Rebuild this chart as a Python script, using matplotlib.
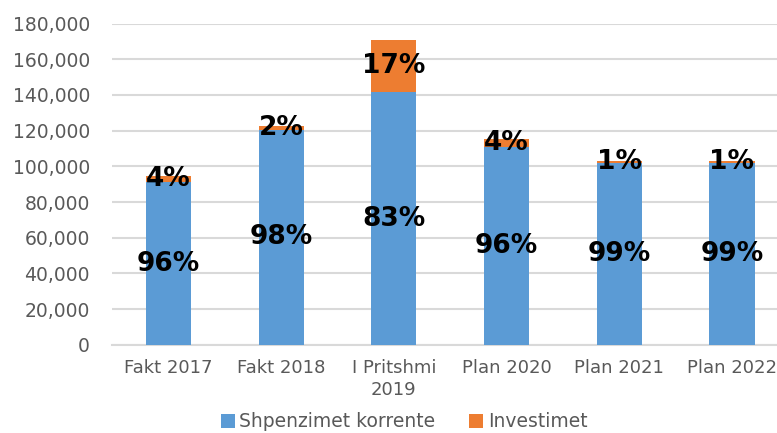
import numpy as np
import matplotlib.pyplot as plt

# -------------------------------------------------------------------
# Data
# -------------------------------------------------------------------
categories = ["Fakt 2017", "Fakt 2018", "I Pritshmi\n2019", "Plan 2020", "Plan 2021", "Plan 2022"]
korrente = [91000, 120500, 141500, 110800, 101800, 101800]
investimet = [3800, 2000, 29500, 4400, 1200, 1200]
pct_korrente = ["96%", "98%", "83%", "96%", "99%", "99%"]
pct_investimet = ["4%", "2%", "17%", "4%", "1%", "1%"]

blue = "#5B9BD5"
orange = "#ED7D31"
grey_text = "#595959"
grid_col = "#D9D9D9"

# -------------------------------------------------------------------
# Figure
# -------------------------------------------------------------------
fig = plt.figure(figsize=(7.77, 4.33), dpi=100)
ax = fig.add_axes([0.1443, 0.2035, 0.8703, 0.742])

x = np.arange(len(categories))
b1 = ax.bar(x, korrente, width=0.4, color=blue, label="Shpenzimet korrente", zorder=3)
b2 = ax.bar(x, investimet, width=0.4, bottom=korrente, color=orange,
            label="Investimet", zorder=3)

# percentage labels, centred in each segment
for i in range(len(categories)):
    ax.text(x[i], korrente[i] / 2, pct_korrente[i], ha="center", va="center",
            fontsize=19, fontweight="bold", color="black", zorder=4)
    ax.text(x[i], korrente[i] + investimet[i] / 2, pct_investimet[i],
            ha="center", va="center", fontsize=19, fontweight="bold",
            color="black", zorder=4)

ax.set_xlim(-0.5, len(categories) - 0.5)
ax.set_ylim(0, 180000)
ax.set_yticks(np.arange(0, 180001, 20000))
ax.set_yticklabels([f"{v:,}" for v in range(0, 180001, 20000)])
ax.set_xticks(x)
ax.set_xticklabels(categories)

ax.yaxis.grid(True, color=grid_col, linewidth=1.5, zorder=0)
ax.set_axisbelow(True)
for side in ["top", "right", "left"]:
    ax.spines[side].set_visible(False)
ax.spines["bottom"].set_color(grid_col)
ax.spines["bottom"].set_linewidth(1.5)

ax.tick_params(axis="y", length=0, pad=16, labelsize=13.5, labelcolor=grey_text)
ax.tick_params(axis="x", length=0, pad=10, labelsize=13, labelcolor=grey_text)
for lbl in ax.get_xticklabels():
    lbl.set_linespacing(1.3)

leg = fig.legend(handles=[b1, b2], loc="center", bbox_to_anchor=(0.52, 0.026),
                 ncol=2, frameon=False, fontsize=13.5, handlelength=0.75,
                 handleheight=0.75, handletextpad=0.25, columnspacing=1.8,
                 borderpad=0.1)
for t in leg.get_texts():
    t.set_color(grey_text)

fig.savefig("out.png", dpi=100)
